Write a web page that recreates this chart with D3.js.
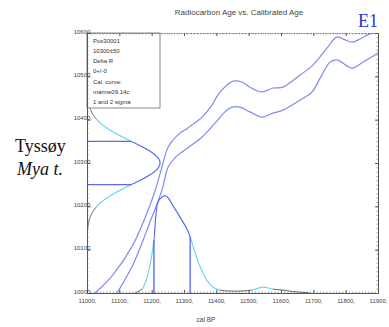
<!DOCTYPE html>
<html>
<head>
<meta charset="utf-8">
<script src="https://cdn.jsdelivr.net/npm/d3@7"></script>
<style>
  html, body { margin: 0; padding: 0; background: #fff; }
  svg { display: block; }
  text { font-family: "Liberation Sans", Arial, sans-serif; }
</style>
</head>
<body>
<svg id="chart" width="389" height="327"></svg>
<script>
// Calibration curve band (marine09), upper and lower bounds: [cal BP, 14C age]
const curveUpper = [
  [11025, 10000], [11080, 10042], [11142, 10111], [11195, 10203], [11213, 10242],
  [11232, 10291], [11251, 10337], [11281, 10365], [11312, 10381], [11356, 10406],
  [11387, 10434], [11405, 10457], [11433, 10480], [11452, 10489], [11479, 10487],
  [11504, 10475], [11541, 10464], [11575, 10473], [11606, 10475], [11659, 10503],
  [11699, 10526], [11742, 10565], [11773, 10591], [11798, 10584], [11820, 10579],
  [11844, 10586], [11875, 10598], [11900, 10603]
];
const curveLower = [
  [11093, 10000], [11142, 10065], [11195, 10164], [11232, 10238], [11251, 10291],
  [11272, 10312], [11312, 10335], [11356, 10360], [11396, 10392], [11427, 10418],
  [11448, 10429], [11473, 10429], [11504, 10418], [11541, 10406], [11575, 10415],
  [11606, 10422], [11659, 10445], [11696, 10464], [11721, 10496], [11752, 10533],
  [11773, 10538], [11820, 10519], [11854, 10533], [11900, 10554]
];

// Calibrated age probability (relative to the peak): [cal BP, density]
const calProb = [
  [11148, 0], [11161, 0.02], [11170, 0.04], [11182, 0.12], [11195, 0.29],
  [11207, 0.55], [11213, 0.80], [11220, 0.94], [11232, 0.99], [11244, 1.0],
  [11251, 0.98], [11266, 0.90], [11288, 0.78], [11309, 0.66], [11319, 0.58],
  [11334, 0.42], [11350, 0.27], [11371, 0.13], [11390, 0.06], [11411, 0.03],
  [11442, 0.02], [11473, 0.02], [11510, 0.03], [11544, 0.06], [11575, 0.04],
  [11606, 0.03], [11637, 0.015], [11674, 0.005], [11690, 0]
];

// Calibrated ranges
const sigma1Ranges = [[11207, 11319]];
const sigma2Ranges = [[11170, 11411], [11510, 11575]];

// Measured radiocarbon age
const c14Mean = 10300;
const c14Err = 50;

// Axis ticks
const xTicks = [11000, 11100, 11200, 11300, 11400, 11500, 11600, 11700, 11800, 11900];
const yTicks = [10000, 10100, 10200, 10300, 10400, 10500, 10600];

// Info box lines
const infoLines = ["Pos30001", "10300\u00b150", "Delta R", "0+/-0", "Cal. curve:", "marine09.14c", "1 and 2 sigma"];

const colCurve = "#7f8cf2";
const colSig1 = "#5a6cec";
const colSig2 = "#6cd4f6";
const colTail = "#555";

const svg = d3.select("#chart");
const L = 87, R = 378, T = 33, B = 293;

const x = d3.scaleLinear().domain([11000, 11900]).range([L, R]);
const y = d3.scaleLinear().domain([10000, 10600]).range([B, T]);
// scales for the two probability curves
const gx = d3.scaleLinear().domain([0, 1]).range([L, 160]);
const py = d3.scaleLinear().domain([0, 1]).range([B, 196]);

const defs = svg.append("defs");
defs.append("clipPath").attr("id", "plotClip")
  .append("rect").attr("x", L).attr("y", T).attr("width", R - L).attr("height", B - T);

// Split a set of inner/outer intervals into the three bands drawn in different colours
function bands(inner, outer, lo, hi) {
  const s1 = inner.slice();
  const s2 = [];
  outer.forEach(o => {
    let start = o[0];
    inner.filter(i => i[0] >= o[0] && i[1] <= o[1]).sort((a, b) => a[0] - b[0]).forEach(i => {
      if (i[0] > start) s2.push([start, i[0]]);
      start = i[1];
    });
    if (o[1] > start) s2.push([start, o[1]]);
  });
  const tail = [];
  let start = lo;
  outer.slice().sort((a, b) => a[0] - b[0]).forEach(o => {
    if (o[0] > start) tail.push([start, o[0]]);
    start = o[1];
  });
  if (hi > start) tail.push([start, hi]);
  return { s1, s2, tail };
}

function clipX(id, ranges) {
  const cp = defs.append("clipPath").attr("id", id);
  ranges.forEach(r => cp.append("rect").attr("x", x(r[0])).attr("y", 0)
    .attr("width", x(r[1]) - x(r[0])).attr("height", 400));
}
function clipY(id, ranges) {
  const cp = defs.append("clipPath").attr("id", id);
  ranges.forEach(r => cp.append("rect").attr("x", 0).attr("y", y(r[1]))
    .attr("width", 400).attr("height", y(r[0]) - y(r[1])));
}
const bx = bands(sigma1Ranges, sigma2Ranges, 10000, 12000);
clipX("cxS1", bx.s1); clipX("cxS2", bx.s2); clipX("cxT", bx.tail);
const by = bands([[c14Mean - c14Err, c14Mean + c14Err]], [[c14Mean - 2 * c14Err, c14Mean + 2 * c14Err]], 9000, 11000);
clipY("cyS1", by.s1); clipY("cyS2", by.s2); clipY("cyT", by.tail);

// Title and captions
svg.append("text").attr("x", 239).attr("y", 15).attr("text-anchor", "middle")
  .attr("font-size", 8).attr("fill", "#444").text("Radiocarbon Age vs. Calibrated Age");
svg.append("text").attr("x", 378).attr("y", 27).attr("text-anchor", "end")
  .style("font-family", "'Liberation Serif', 'Times New Roman', serif")
  .attr("font-size", 18).attr("fill", "#2436d8").text("E1");
svg.append("text").attr("x", 15).attr("y", 152)
  .style("font-family", "'Liberation Serif', 'Times New Roman', serif")
  .attr("font-size", 18).attr("fill", "#111").text("Tyssøy");
svg.append("text").attr("x", 17).attr("y", 175)
  .style("font-family", "'Liberation Serif', 'Times New Roman', serif")
  .attr("font-style", "italic").attr("font-size", 18).attr("fill", "#111").text("Mya t.");
svg.append("text").attr("x", 206).attr("y", 322).attr("text-anchor", "middle")
  .attr("font-size", 6.5).attr("fill", "#444").text("cal BP");

const plot = svg.append("g").attr("clip-path", "url(#plotClip)");

// Calibration curve band
const line = d3.line().x(d => x(d[0])).y(d => y(d[1])).curve(d3.curveCatmullRom.alpha(0.5));
[curveUpper, curveLower].forEach(c => plot.append("path").attr("d", line(c))
  .attr("fill", "none").attr("stroke", colCurve).attr("stroke-width", 1.2));

// Normal distribution of the measured age along the y axis
const gaussY = d3.range(c14Mean - 4 * c14Err, c14Mean + 4 * c14Err + 0.1, 2);
const gauss = v => Math.exp(-0.5 * Math.pow((v - c14Mean) / c14Err, 2));
const gLine = d3.line().x(v => gx(gauss(v))).y(v => y(v));
[["cyT", colTail, 0.9], ["cyS2", colSig2, 1.2], ["cyS1", colSig1, 1.2]].forEach(([cp, col, w]) => {
  plot.append("g").attr("clip-path", `url(#${cp})`).append("path").attr("d", gLine(gaussY))
    .attr("fill", "none").attr("stroke", col).attr("stroke-width", w);
});
[c14Mean - c14Err, c14Mean + c14Err].forEach(v => {
  plot.append("line").attr("x1", L).attr("x2", gx(gauss(v)))
    .attr("y1", y(v)).attr("y2", y(v)).attr("stroke", colSig1).attr("stroke-width", 1.4);
});

// Calibrated probability along the x axis
const pLine = d3.line().x(d => x(d[0])).y(d => py(d[1])).curve(d3.curveCatmullRom.alpha(0.5));
[["cxT", colTail, 0.9], ["cxS2", colSig2, 1.2], ["cxS1", colSig1, 1.2]].forEach(([cp, col, w]) => {
  plot.append("g").attr("clip-path", `url(#${cp})`).append("path").attr("d", pLine(calProb))
    .attr("fill", "none").attr("stroke", col).attr("stroke-width", w);
});
sigma1Ranges.forEach(r => r.forEach(v => {
  const d = calProb.find(p => p[0] === v);
  plot.append("line").attr("x1", x(v)).attr("x2", x(v))
    .attr("y1", B).attr("y2", py(d[1])).attr("stroke", colSig1).attr("stroke-width", 1.4);
}));

// Info box
const box = svg.append("g");
box.append("rect").attr("x", L).attr("y", T).attr("width", 73).attr("height", 75)
  .attr("fill", "#fff").attr("stroke", "#888").attr("stroke-width", 1);
box.selectAll("text").data(infoLines).join("text")
  .attr("x", 93).attr("y", (d, i) => 42.5 + i * 10.3)
  .attr("font-size", 6).attr("fill", "#333").text(d => d);

// Axes
const fmt = d => d + ",";
const minorX = d3.range(11000, 11901, 10);
const minorY = d3.range(10000, 10601, 10);

function styleAxis(g) {
  g.select(".domain").attr("stroke", "#555").attr("stroke-width", 1);
  g.selectAll(".tick line").attr("stroke", "#555");
  g.selectAll("text").attr("fill", "#444").attr("font-size", 6)
    .style("font-family", "'Liberation Sans', Arial, sans-serif");
}
function minor(g) {
  g.select(".domain").remove();
  g.selectAll("line").attr("stroke", "#666").attr("stroke-width", 0.6);
}

// bottom
const gb = svg.append("g").attr("transform", `translate(0,${B})`)
  .call(d3.axisBottom(x).tickValues(xTicks).tickFormat(fmt).tickSizeInner(-3).tickSizeOuter(0).tickPadding(0));
styleAxis(gb);
gb.selectAll("text").attr("y", 8).attr("dy", "0.32em");
svg.append("g").attr("transform", `translate(0,${B})`)
  .call(d3.axisBottom(x).tickValues(minorX).tickFormat("").tickSize(-1.5)).call(minor);

// top
const gt = svg.append("g").attr("transform", `translate(0,${T})`)
  .call(d3.axisTop(x).tickValues(xTicks).tickFormat("").tickSizeInner(-3).tickSizeOuter(0));
styleAxis(gt);
gt.select(".domain").attr("stroke", "#777").attr("stroke-dasharray", "1.2,1.2");
svg.append("g").attr("transform", `translate(0,${T})`)
  .call(d3.axisTop(x).tickValues(minorX).tickFormat("").tickSize(-1.5)).call(minor);

// left
const gl = svg.append("g").attr("transform", `translate(${L},0)`)
  .call(d3.axisLeft(y).tickValues(yTicks).tickFormat(fmt).tickSizeInner(-3).tickSizeOuter(0).tickPadding(0));
styleAxis(gl);
gl.selectAll("text").attr("x", 5).attr("dy", "0").attr("text-anchor", "end");
svg.append("g").attr("transform", `translate(${L},0)`)
  .call(d3.axisLeft(y).tickValues(minorY).tickFormat("").tickSize(-1.5)).call(minor);

// right
const gr = svg.append("g").attr("transform", `translate(${R},0)`)
  .call(d3.axisRight(y).tickValues(yTicks).tickFormat("").tickSizeInner(-3).tickSizeOuter(0));
styleAxis(gr);
svg.append("g").attr("transform", `translate(${R},0)`)
  .call(d3.axisRight(y).tickValues(minorY).tickFormat("").tickSize(-1.5)).call(minor);
</script>
</body>
</html>
